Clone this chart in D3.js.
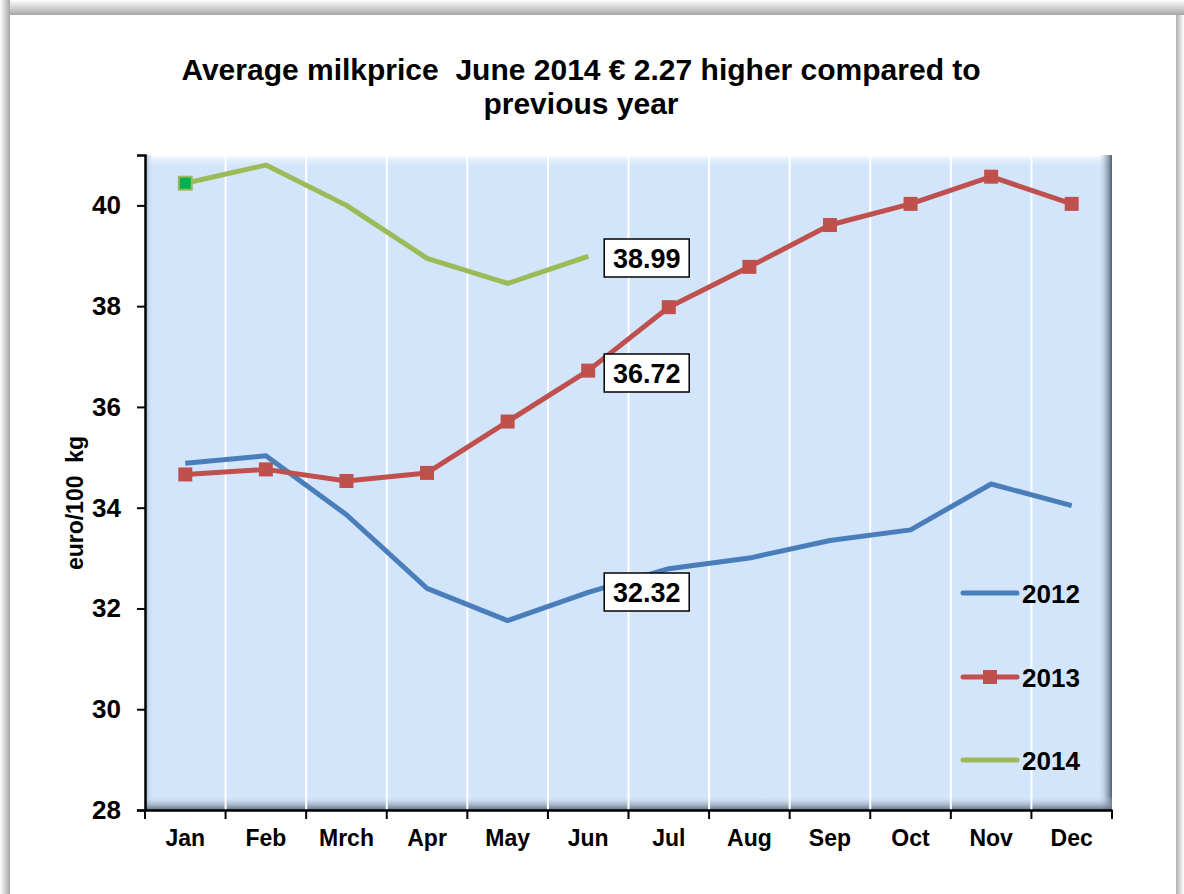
<!DOCTYPE html>
<html>
<head>
<meta charset="utf-8">
<script src="https://cdn.jsdelivr.net/npm/d3@7"></script>
<style>
  body { margin: 0; background: #fff; }
  svg text { font-family: Arial, "Liberation Sans", sans-serif; font-weight: bold; fill: #000; white-space: pre; }
</style>
</head>
<body>
<svg id="chart" width="1184" height="894"></svg>
<script>
const months = ['Jan', 'Feb', 'Mrch', 'Apr', 'May', 'Jun', 'Jul', 'Aug', 'Sep', 'Oct', 'Nov', 'Dec'];
const prices2012 = [34.88, 35.03, 33.86, 32.4, 31.76, 32.32, 32.79, 33.0, 33.35, 33.56, 34.47, 34.04];
const prices2013 = [34.66, 34.76, 34.53, 34.69, 35.71, 36.72, 37.98, 38.78, 39.61, 40.03, 40.57, 40.03];
const prices2014 = [40.44, 40.8, 40.0, 38.95, 38.45, 38.99];
const yTicks = [28, 30, 32, 34, 36, 38, 40];
const callouts = [
  { series: '2014', value: 38.99, top: 239 },
  { series: '2013', value: 36.72, top: 354 },
  { series: '2012', value: 32.32, top: 573 }
];

const svg = d3.select('#chart');
const defs = svg.append('defs');

// outer frame with soft grey bevel
const frameTop = defs.append('linearGradient').attr('id', 'frameTop').attr('x1', 0).attr('y1', 0).attr('x2', 0).attr('y2', 1);
frameTop.append('stop').attr('offset', 0).attr('stop-color', '#fff');
frameTop.append('stop').attr('offset', 1).attr('stop-color', '#a6a6a6');
const frameSide = defs.append('linearGradient').attr('id', 'frameSide').attr('x1', 0).attr('y1', 0).attr('x2', 1).attr('y2', 0);
frameSide.append('stop').attr('offset', 0).attr('stop-color', '#fff');
frameSide.append('stop').attr('offset', 1).attr('stop-color', '#a6a6a6');
const frameRight = defs.append('linearGradient').attr('id', 'frameRight').attr('x1', 0).attr('y1', 0).attr('x2', 1).attr('y2', 0);
frameRight.append('stop').attr('offset', 0).attr('stop-color', '#b0b0b0');
frameRight.append('stop').attr('offset', 1).attr('stop-color', '#fff');

svg.append('rect').attr('x', 0).attr('y', 0).attr('width', 1184).attr('height', 15).attr('fill', 'url(#frameTop)');
svg.append('rect').attr('x', 0).attr('y', 0).attr('width', 10).attr('height', 894).attr('fill', 'url(#frameSide)');
svg.append('rect').attr('x', 1176).attr('y', 15).attr('width', 8).attr('height', 879).attr('fill', 'url(#frameRight)');
svg.append('rect').attr('x', 10).attr('y', 15).attr('width', 1166).attr('height', 879).attr('fill', '#fff');

const margin = { top: 155, right: 72, bottom: 84, left: 145 };
const width = 1184 - margin.left - margin.right;
const height = 894 - margin.top - margin.bottom;

const x = d3.scaleBand().domain(months).range([0, width]);
const y = d3.scaleLinear().domain([28, 41]).range([height, 0]);

const g = svg.append('g').attr('transform', `translate(${margin.left},${margin.top})`);

// plot area with bevelled edges
const bevelTop = defs.append('linearGradient').attr('id', 'bevelTop').attr('x1', 0).attr('y1', 0).attr('x2', 0).attr('y2', 1);
bevelTop.append('stop').attr('offset', 0).attr('stop-color', '#ffffff').attr('stop-opacity', 0.95);
bevelTop.append('stop').attr('offset', 1).attr('stop-color', '#d3e5fb').attr('stop-opacity', 0);
const bevelBottom = defs.append('linearGradient').attr('id', 'bevelBottom').attr('x1', 0).attr('y1', 0).attr('x2', 0).attr('y2', 1);
bevelBottom.append('stop').attr('offset', 0).attr('stop-color', '#d3e5fb').attr('stop-opacity', 0);
bevelBottom.append('stop').attr('offset', 1).attr('stop-color', '#5f6f82');
const bevelRight = defs.append('linearGradient').attr('id', 'bevelRight').attr('x1', 0).attr('y1', 0).attr('x2', 1).attr('y2', 0);
bevelRight.append('stop').attr('offset', 0).attr('stop-color', '#d3e5fb').attr('stop-opacity', 0);
bevelRight.append('stop').attr('offset', 1).attr('stop-color', '#4f5d6e');
const bevelLeft = defs.append('linearGradient').attr('id', 'bevelLeft').attr('x1', 0).attr('y1', 0).attr('x2', 1).attr('y2', 0);
bevelLeft.append('stop').attr('offset', 0).attr('stop-color', '#9fb2c8');
bevelLeft.append('stop').attr('offset', 1).attr('stop-color', '#d3e5fb').attr('stop-opacity', 0);

g.append('rect').attr('width', width).attr('height', height).attr('fill', '#d3e5fb');
g.append('rect').attr('width', width).attr('height', 14).attr('fill', 'url(#bevelTop)');
g.append('rect').attr('width', 8).attr('height', height).attr('fill', 'url(#bevelLeft)');
g.append('rect').attr('x', width - 14).attr('width', 14).attr('height', height).attr('fill', 'url(#bevelRight)');
g.append('rect').attr('y', height - 14).attr('width', width).attr('height', 14).attr('fill', 'url(#bevelBottom)');

// vertical white gridlines between months
g.selectAll('.grid')
  .data(months.slice(1))
  .enter().append('line')
  .attr('x1', d => x(d)).attr('x2', d => x(d))
  .attr('y1', 0).attr('y2', height)
  .attr('stroke', '#fff').attr('stroke-width', 2);

// axes
const yAxis = g.append('g')
  .call(d3.axisLeft(y).tickValues(yTicks).tickSize(8).tickPadding(16).tickFormat(d3.format('d')));
yAxis.select('.domain').attr('stroke', '#000').attr('stroke-width', 2.5);
yAxis.selectAll('.tick line').attr('stroke', '#000').attr('stroke-width', 2);
yAxis.selectAll('text').style('font-size', '26px');

const xAxis = g.append('g').attr('transform', `translate(0,${height})`)
  .call(d3.axisBottom(x).tickSize(0).tickPadding(20));
xAxis.select('.domain').attr('stroke', '#000').attr('stroke-width', 2.5);
xAxis.selectAll('text').style('font-size', '23px');
xAxis.selectAll('.xtick')
  .data(months.concat(['end']))
  .enter().append('line')
  .attr('x1', (d, i) => i * x.step()).attr('x2', (d, i) => i * x.step())
  .attr('y1', 0).attr('y2', 9)
  .attr('stroke', '#000').attr('stroke-width', 2);

const line = d3.line()
  .x((d, i) => x(months[i]) + x.bandwidth() / 2)
  .y(d => y(d));

const series = [
  { name: '2012', values: prices2012, color: '#4a7ebb' },
  { name: '2013', values: prices2013, color: '#c0504d' },
  { name: '2014', values: prices2014, color: '#9bbb59' }
];

series.forEach(s => {
  g.append('path')
    .datum(s.values)
    .attr('d', line)
    .attr('fill', 'none')
    .attr('stroke', s.color)
    .attr('stroke-width', 5)
    .attr('stroke-linejoin', 'round');
});

// 2013 square markers
g.selectAll('.m2013')
  .data(prices2013)
  .enter().append('rect')
  .attr('x', (d, i) => x(months[i]) + x.bandwidth() / 2 - 7)
  .attr('y', d => y(d) - 7)
  .attr('width', 14).attr('height', 14)
  .attr('fill', '#c0504d');

// 2014 first point marker
g.append('rect')
  .datum(prices2014[0])
  .attr('x', x(months[0]) + x.bandwidth() / 2 - 6.5)
  .attr('y', d => y(d) - 6.5)
  .attr('width', 13).attr('height', 13)
  .attr('fill', '#00b050').attr('stroke', '#9bbb59').attr('stroke-width', 2);

// June value callouts
callouts.forEach(c => {
  const bx = x('Jun') + x.bandwidth() / 2 + 16;
  const by = c.top - margin.top;
  g.append('rect')
    .attr('x', bx).attr('y', by)
    .attr('width', 85).attr('height', 38)
    .attr('fill', '#fff').attr('stroke', '#000').attr('stroke-width', 1.5);
  g.append('text')
    .attr('x', bx + 42.5).attr('y', by + 29)
    .attr('text-anchor', 'middle')
    .style('font-size', '27px')
    .text(c.value.toFixed(2));
});

// legend
const legend = g.append('g').attr('transform', `translate(${963 - margin.left},0)`);
series.forEach((s, i) => {
  const ly = [593, 677, 760][i] - margin.top;
  legend.append('line')
    .attr('x1', 0).attr('x2', 54).attr('y1', ly).attr('y2', ly)
    .attr('stroke', s.color).attr('stroke-width', 5).attr('stroke-linecap', 'round');
  if (s.name === '2013') {
    legend.append('rect').attr('x', 20).attr('y', ly - 7).attr('width', 14).attr('height', 14).attr('fill', s.color);
  }
  legend.append('text')
    .attr('x', 59).attr('y', ly + 10)
    .style('font-size', '26px')
    .text(s.name);
});

// titles
svg.append('text')
  .attr('x', 581).attr('y', 80)
  .attr('text-anchor', 'middle')
  .style('font-size', '30px')
  .text('Average milkprice  June 2014 € 2.27 higher compared to');
svg.append('text')
  .attr('x', 581).attr('y', 114)
  .attr('text-anchor', 'middle')
  .style('font-size', '30px')
  .text('previous year');

svg.append('text')
  .attr('transform', 'translate(83,503) rotate(-90)')
  .attr('text-anchor', 'middle')
  .style('font-size', '23px')
  .text('euro/100  kg');
</script>
</body>
</html>
